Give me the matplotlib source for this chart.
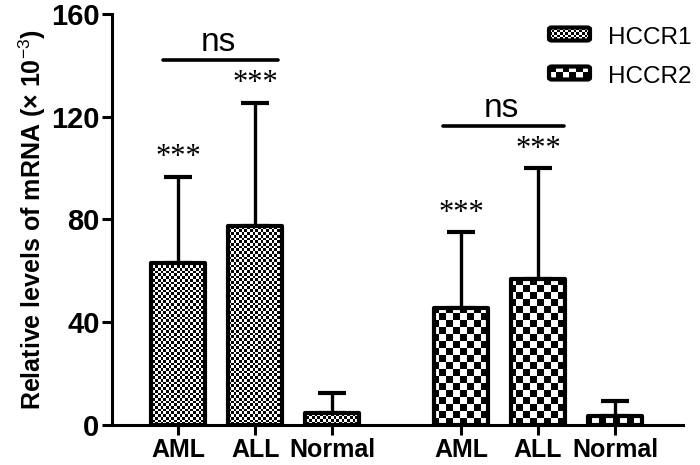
import numpy as np
import matplotlib
matplotlib.use("Agg")
import matplotlib.pyplot as plt
from matplotlib.patches import FancyBboxPatch

plt.rcParams['font.family'] = ['Liberation Sans', 'DejaVu Sans']
plt.rcParams['mathtext.fontset'] = 'custom'
plt.rcParams['mathtext.rm'] = 'Liberation Sans'
plt.rcParams['mathtext.bf'] = 'Liberation Sans:bold'

# ---- data ----
categories = ["AML", "ALL", "Normal"]
series_names = ["HCCR1", "HCCR2"]
hccr1_mean = [63.0, 77.5, 4.7]
hccr1_sd = [33.5, 48.0, 7.7]
hccr2_mean = [45.5, 57.0, 3.5]
hccr2_sd = [29.5, 43.0, 5.8]
significance = ["***", "***", ""]
group_test = "ns"
y_ticks = [0, 40, 80, 120, 160]

# ---- layout ----
W, H = 700, 465
fig = plt.figure(figsize=(W / 100, H / 100), dpi=100)
ax = fig.add_axes([112 / W, 40 / H, (683 - 112) / W, (425 - 14) / H])

xmin, xmax = -0.857, 6.55
ymin, ymax = 0, 160
ax.set_xlim(xmin, xmax)
ax.set_ylim(ymin, ymax)

gap = 3.67
pos1 = np.arange(len(categories), dtype=float)
pos2 = pos1 + gap
bw = 0.70

ax_wpx = 683 - 112
ax_hpx = 425 - 14


def checker(cell_px):
    nx = int(round(ax_wpx / cell_px))
    ny = int(round(ax_hpx / cell_px))
    yy, xx = np.mgrid[0:ny, 0:nx]
    return ((xx + yy) % 2).astype(float)


patterns = [checker(2.7), checker(7.0)]

for si, (pos, mean, sd) in enumerate([(pos1, hccr1_mean, hccr1_sd),
                                      (pos2, hccr2_mean, hccr2_sd)]):
    ax.errorbar(pos, mean, yerr=[np.zeros(len(sd)), sd], fmt='none',
                ecolor='black', elinewidth=2.4, capsize=10, capthick=3,
                zorder=1)
    bars = ax.bar(pos, mean, width=bw, facecolor='none', edgecolor='black',
                  linewidth=3.0, zorder=3, joinstyle='round')
    for b in bars:
        im = ax.imshow(patterns[si], cmap='gray', vmin=0, vmax=1,
                       extent=(xmin, xmax, ymin, ymax), aspect='auto',
                       interpolation='nearest', zorder=2, origin='lower')
        im.set_clip_path(b)
    for p, m, s, sig in zip(pos, mean, sd, significance):
        if sig:
            ax.text(p, m + s + 1.8, sig, ha='center', va='bottom',
                    fontsize=22, family='Liberation Serif')

ax.set_xlim(xmin, xmax)
ax.set_ylim(ymin, ymax)

# ns brackets
ax.plot([-0.2, 1.29], [142, 142], color='black', lw=2.6,
        solid_capstyle='round', clip_on=False)
ax.text(0.52, 145.5, group_test, ha='center', va='baseline', fontsize=24)
ax.plot([gap - 0.23, gap + 1.34], [116.5, 116.5], color='black', lw=2.6,
        solid_capstyle='round', clip_on=False)
ax.text(gap + 0.52, 120, group_test, ha='center', va='baseline', fontsize=24)

# axes styling
for s in ['top', 'right']:
    ax.spines[s].set_visible(False)
for s in ['left', 'bottom']:
    ax.spines[s].set_linewidth(2.2)
ax.set_xticks(np.concatenate([pos1, pos2]))
ax.set_xticklabels(categories + categories, fontsize=18, fontweight='bold')
ax.set_yticks(y_ticks)
ax.set_yticklabels([str(t) for t in y_ticks], fontsize=21, fontweight='bold')
ax.tick_params(axis='both', direction='out', length=7, width=2.2, pad=2)
ax.set_ylabel(r'Relative levels of mRNA (× 10$^{-3}$)', fontsize=18,
              fontweight='bold', labelpad=2)

# legend (manual)
for i, name in enumerate(series_names):
    yc = 34 + i * 39
    x0, y0, w, h = 549, yc - 6.5, 41, 13
    box = FancyBboxPatch((x0 / W, 1 - (y0 + h) / H), w / W, h / H,
                         boxstyle='round,pad=0,rounding_size=0.004',
                         transform=fig.transFigure, facecolor='none',
                         edgecolor='black', linewidth=3.0, zorder=5)
    fig.add_artist(box)
    cell = [2.7, 7.0][i]
    nx = int(round(w / cell))
    ny = int(round(h / cell))
    yy, xx = np.mgrid[0:ny, 0:nx]
    pat = ((xx + yy) % 2).astype(float)
    lax = fig.add_axes([x0 / W, 1 - (y0 + h) / H, w / W, h / H])
    lax.imshow(pat, cmap='gray', vmin=0, vmax=1, aspect='auto',
               interpolation='nearest')
    lax.set_axis_off()
    fig.text(608 / W, 1 - (yc + 4) / H, name, fontsize=17.5, ha='left',
             va='center')

fig.savefig('out.png', dpi=100)
